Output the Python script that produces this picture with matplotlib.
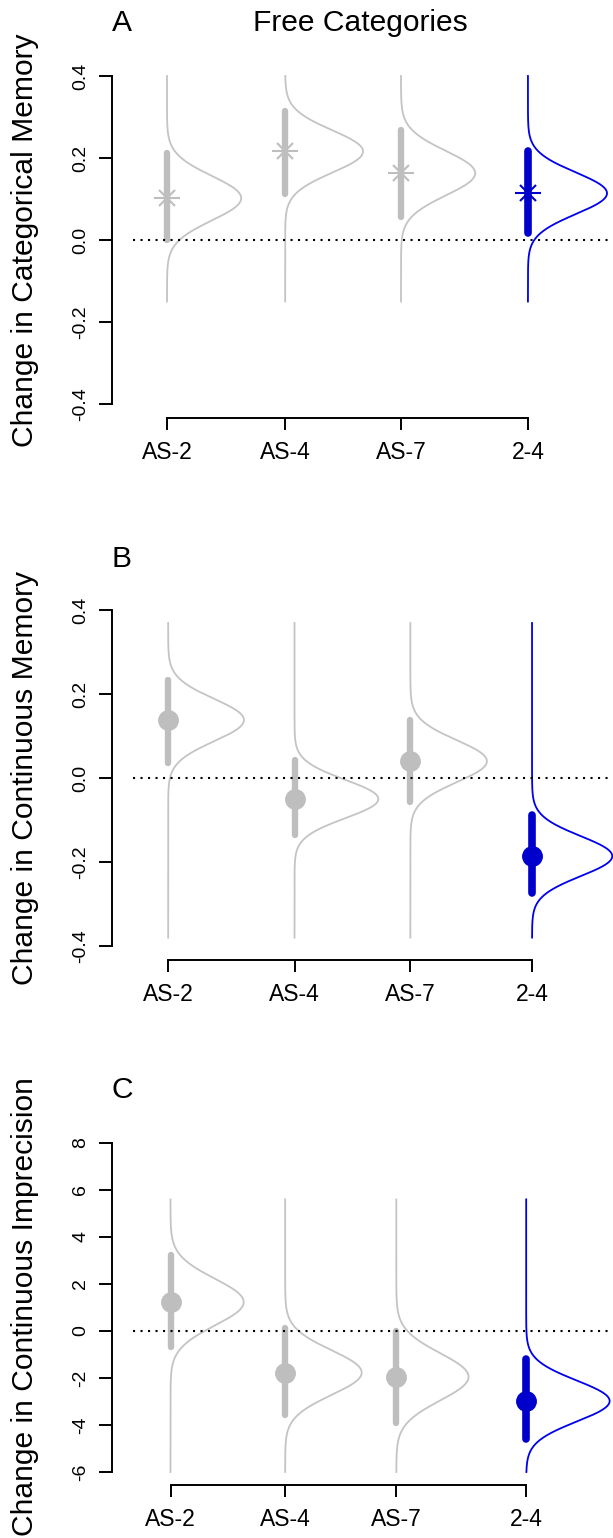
import numpy as np
import matplotlib
matplotlib.use('Agg')
import matplotlib.pyplot as plt

plt.rcParams['font.family'] = ['Liberation Sans', 'DejaVu Sans']

# category labels shared by all panels
categories = ['AS-2', 'AS-4', 'AS-7', '2-4']

# panel A: change in categorical memory (mean, 95% interval)
cat_mean = [0.102, 0.216, 0.163, 0.114]
cat_lo = [0.000, 0.113, 0.056, 0.017]
cat_hi = [0.212, 0.315, 0.268, 0.216]

# panel B: change in continuous memory
cont_mean = [0.138, -0.050, 0.040, -0.186]
cont_lo = [0.035, -0.136, -0.057, -0.275]
cont_hi = [0.233, 0.043, 0.139, -0.088]

# panel C: change in continuous imprecision
imp_mean = [1.23, -1.77, -1.95, -2.98]
imp_lo = [-0.68, -3.59, -3.93, -4.60]
imp_hi = [3.22, 0.14, 0.02, -1.18]

yticks_ab = [-0.4, -0.2, 0.0, 0.2, 0.4]
ytick_labels_ab = ['-0.4', '-0.2', '0.0', '0.2', '0.4']
yticks_c = [-6, -4, -2, 0, 2, 4, 6, 8]
ytick_labels_c = ['-6', '-4', '-2', '0', '2', '4', '6', '8']

W, H = 613, 1538
GRAY = '#BEBEBE'
GRAY_LINE = '#C4C4C4'
BLUE = '#0000CD'
BLUE_LINE = '#0000EE'

fig = plt.figure(figsize=(W / 100, H / 100), dpi=100)

XLIM = (0.53, 4.812)


def make_axes(zero_px, ppu, ylim):
    bottom_px = zero_px - ylim[0] * ppu
    top_px = zero_px - ylim[1] * ppu
    ax = fig.add_axes([112 / W, 1 - bottom_px / H, (W - 112) / W, (bottom_px - top_px) / H])
    ax.set_xlim(*XLIM)
    ax.set_ylim(*ylim)
    ax.patch.set_alpha(0)
    return ax


def normal_pdf(y, m, sd):
    return np.exp(-0.5 * ((y - m) / sd) ** 2) / (sd * np.sqrt(2 * np.pi))


def draw_panel(ax, xpos, means, los, his, yticks, ylabels, curve_range, dens_scale, marker):
    for i, (p, m, lo, hi) in enumerate(zip(xpos, means, los, his)):
        last = i == len(xpos) - 1
        col = BLUE if last else GRAY
        lcol = BLUE_LINE if last else GRAY_LINE
        sd = (hi - lo) / 3.92
        yy = np.linspace(curve_range[0], curve_range[1], 600)
        ax.plot(p + dens_scale * normal_pdf(yy, m, sd), yy, color=lcol, lw=1.3, zorder=2)
        ax.plot([p, p], [lo, hi], color=col, lw=5.5 if last else 4.6,
                solid_capstyle='round', zorder=3)
        if marker == 'star':
            ax.plot(p, m, marker='+', ms=19, mew=1.5, color=col, zorder=4)
            ax.plot(p, m, marker='x', ms=11.5, mew=1.5, color=col, zorder=4)
        else:
            ax.plot(p, m, marker='o', ms=14, color=col, mec=col, zorder=4)

    xstart = (0.71 - XLIM[0]) / (XLIM[1] - XLIM[0])
    ax.axhline(0, xmin=xstart, xmax=1, color='black', lw=1.5, dashes=(1, 2.6), zorder=5)

    for s in ['top', 'right']:
        ax.spines[s].set_visible(False)
    ax.spines['left'].set_bounds(yticks[0], yticks[-1])
    ax.spines['bottom'].set_bounds(xpos[0], xpos[-1])
    for s in ['left', 'bottom']:
        ax.spines[s].set_linewidth(1.4)

    ax.set_yticks(yticks)
    ax.set_yticklabels(ylabels, rotation=90, va='center')
    ax.set_xticks(xpos)
    ax.set_xticklabels(categories)
    ax.tick_params(axis='y', length=9.4, width=1.4, pad=7, labelsize=14)
    ax.tick_params(axis='x', length=8.6, width=1.4, pad=8, labelsize=16.5)


# panel A
ax_a = make_axes(240, 410, (-0.434, 0.434))
draw_panel(ax_a, [1.0, 2.01, 3.0, 4.085], cat_mean, cat_lo, cat_hi,
           yticks_ab, ytick_labels_ab, (-0.15, 0.4), 0.086, 'star')

# panel B
ax_b = make_axes(778, 420, (-0.433, 0.433))
draw_panel(ax_b, [1.01, 2.09, 3.08, 4.12], cont_mean, cont_lo, cont_hi,
           yticks_ab, ytick_labels_ab, (-0.38, 0.369), 0.082, 'dot')

# panel C
ax_c = make_axes(1331, 23.5, (-6.55, 8.56))
draw_panel(ax_c, [1.03, 2.01, 2.96, 4.07], imp_mean, imp_lo, imp_hi,
           yticks_c, ytick_labels_c, (-6.0, 5.6), 1.56, 'dot')

# labels and titles (pixel positions)
big = 21.6
fig.text(25 / W, 1 - 240 / H, 'Change in Categorical Memory', rotation=90,
         ha='center', va='center', fontsize=big)
fig.text(25 / W, 1 - 778 / H, 'Change in Continuous Memory', rotation=90,
         ha='center', va='center', fontsize=big)
fig.text(25 / W, 1 - 1307 / H, 'Change in Continuous Imprecision', rotation=90,
         ha='center', va='center', fontsize=big)
fig.text(122 / W, 1 - 23 / H, 'A', ha='center', va='center', fontsize=big)
fig.text(360 / W, 1 - 23 / H, 'Free Categories', ha='center', va='center', fontsize=big)
fig.text(122 / W, 1 - 559 / H, 'B', ha='center', va='center', fontsize=big)
fig.text(122 / W, 1 - 1090 / H, 'C', ha='center', va='center', fontsize=big)

fig.savefig('out.png', dpi=100)
